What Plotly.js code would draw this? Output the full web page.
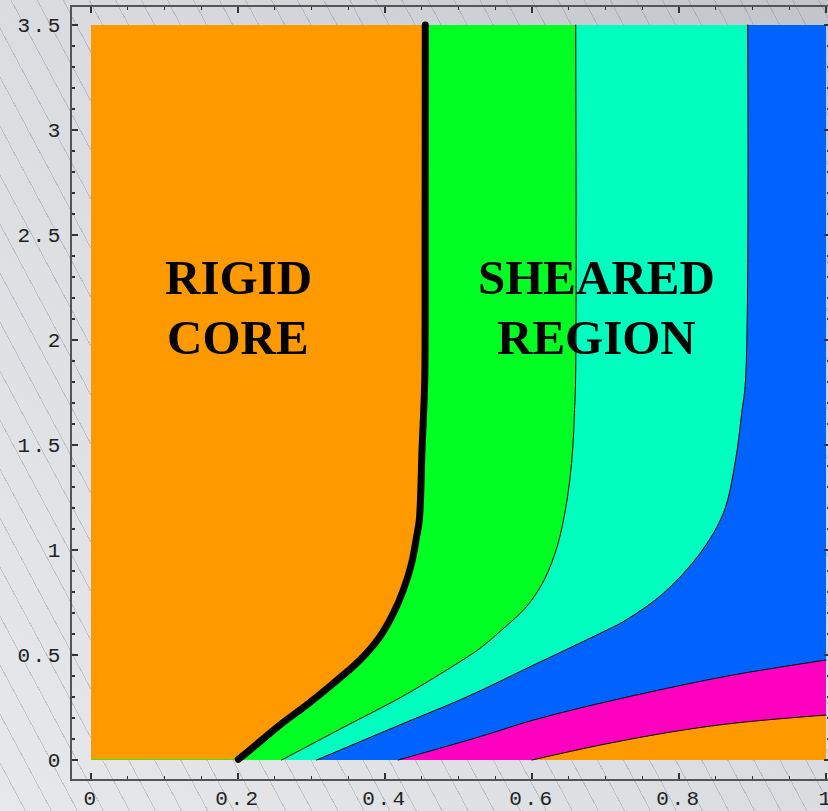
<!DOCTYPE html>
<html>
<head>
<meta charset="utf-8">
<script src="https://cdn.plot.ly/plotly-3.0.1.min.js"></script>
<style>
  html, body { margin: 0; padding: 0; overflow: hidden; width: 828px; height: 811px; }
  body {
    background:
      repeating-linear-gradient(62deg, rgba(0,0,0,0) 0px, rgba(0,0,0,0) 22px, rgba(110,115,125,0.30) 22px, rgba(110,115,125,0.30) 23px),
      linear-gradient(to bottom left, #c1c4ca 0%, #d9dbdf 45%, #e6e8eb 100%);
  }
  #chart { width: 830px; height: 811px; }
  .scatterlayer .js-line { stroke-linecap: round; stroke-linejoin: round; }
  .xtick text, .ytick text { letter-spacing: 2.5px; }
</style>
</head>
<body>
<div id="chart"></div>
<script>
// ---- data ----
const xDomain = [0, 1];
const yDomain = [0, 3.5];

// yield surface (thick black): rigid core / sheared region boundary
const yieldX = [0.2004, 0.2163, 0.2571, 0.2934, 0.3297, 0.3660, 0.3930, 0.4113, 0.4250, 0.4362, 0.4430, 0.4467, 0.4505, 0.4525, 0.4541, 0.4546, 0.4548];
const yieldY = [0.003, 0.048, 0.167, 0.262, 0.365, 0.476, 0.587, 0.698, 0.810, 0.937, 1.063, 1.143, 1.492, 1.651, 1.810, 2.600, 3.500];

// green / aquamarine boundary
const gaX = [0.2594, 0.3453, 0.4234, 0.4910, 0.5293, 0.5587, 0.5925, 0.6165, 0.6342, 0.6446, 0.6514, 0.6556, 0.6577, 0.6593, 0.6595];
const gaY = [0.000, 0.159, 0.302, 0.444, 0.532, 0.619, 0.730, 0.857, 1.016, 1.175, 1.333, 1.492, 1.651, 1.810, 3.500];

// aquamarine / blue boundary
const abX = [0.307, 0.420, 0.511, 0.602, 0.6925, 0.728, 0.7787, 0.8286, 0.8603, 0.8762, 0.8853, 0.8905, 0.8935];
const abY = [0.000, 0.167, 0.300, 0.452, 0.603, 0.667, 0.794, 0.984, 1.175, 1.413, 1.651, 1.810, 3.500];

// blue / magenta boundary
const bmX = [0.418, 0.529, 0.6017, 0.6925, 0.7832, 0.8739, 1.000];
const bmY = [0.000, 0.111, 0.190, 0.270, 0.341, 0.405, 0.476];

// magenta / orange boundary
const moX = [0.600, 0.6925, 0.783, 0.874, 1.000];
const moY = [0.000, 0.071, 0.130, 0.175, 0.214];

const xTickVals = [0, 0.2, 0.4, 0.6, 0.8, 1];
const xTickText = ['0', '0.2', '0.4', '0.6', '0.8', '1'];
const yTickVals = [0, 0.5, 1, 1.5, 2, 2.5, 3, 3.5];
const yTickText = ['0', '0.5', '1', '1.5', '2', '2.5', '3', '3.5'];

const labelLeft = ['RIGID', 'CORE'];
const labelRight = ['SHEARED', 'REGION'];

// ---- colours ----
const cOrange = '#ff9900';
const cGreen = '#00ff22';
const cAqua = '#00ffbf';
const cBlue = '#0062ff';
const cMagenta = '#ff00c0';

const sm = 1.0;
const traces = [
  { // blue base over whole domain
    x: [xDomain[1], xDomain[1]], y: yDomain, mode: 'lines', fill: 'tozerox',
    fillcolor: cBlue, line: { width: 0, color: cBlue }, hoverinfo: 'skip'
  },
  { x: abX, y: abY, mode: 'lines', fill: 'tozerox', fillcolor: cAqua,
    line: { color: '#000', width: 1, shape: 'spline', smoothing: sm }, hoverinfo: 'skip' },
  { x: gaX, y: gaY, mode: 'lines', fill: 'tozerox', fillcolor: cGreen,
    line: { color: '#000', width: 1, shape: 'spline', smoothing: sm }, hoverinfo: 'skip' },
  { x: yieldX, y: yieldY, mode: 'lines', fill: 'tozerox', fillcolor: cOrange,
    line: { color: '#000', width: 7, shape: 'spline', smoothing: sm }, hoverinfo: 'skip' },
  { x: bmX, y: bmY, mode: 'lines', fill: 'tozeroy', fillcolor: cMagenta,
    line: { color: '#000', width: 1, shape: 'spline', smoothing: sm }, hoverinfo: 'skip' },
  { x: moX, y: moY, mode: 'lines', fill: 'tozeroy', fillcolor: cOrange,
    line: { color: '#000', width: 1, shape: 'spline', smoothing: sm }, hoverinfo: 'skip' }
];

const tickFont = { family: 'Liberation Mono, DejaVu Sans Mono, monospace', size: 21, color: '#222' };
const annFont = { family: 'Liberation Serif, DejaVu Serif, serif', size: 49, color: '#000' };

const layout = {
  width: 830, height: 811,
  margin: { l: 72, r: 0, t: 7, b: 32 },
  paper_bgcolor: 'rgba(0,0,0,0)',
  plot_bgcolor: 'rgba(0,0,0,0)',
  showlegend: false,
  xaxis: {
    range: [-0.02585, 1.00544], autorange: false,
    tickmode: 'array', tickvals: xTickVals, ticktext: xTickText,
    ticks: 'inside', ticklen: 6, tickwidth: 1.5, tickcolor: '#333',
    minor: { tickmode: 'linear', tick0: 0, dtick: 0.05, ticks: 'inside', ticklen: 3, tickwidth: 1.2, tickcolor: '#333' },
    showline: true, linecolor: '#555', linewidth: 2, mirror: 'ticks',
    showgrid: false, zeroline: false, automargin: false,
    tickfont: tickFont, ticklabelstandoff: -1, ticklabeloverflow: 'allow'
  },
  yaxis: {
    range: [-0.09048, 3.5857], autorange: false,
    tickmode: 'array', tickvals: yTickVals, ticktext: yTickText,
    ticks: 'inside', ticklen: 6, tickwidth: 1.5, tickcolor: '#333',
    minor: { tickmode: 'linear', tick0: 0, dtick: 0.1, ticks: 'inside', ticklen: 3, tickwidth: 1.2, tickcolor: '#333' },
    showline: true, linecolor: '#555', linewidth: 2, mirror: 'ticks',
    showgrid: false, zeroline: false, automargin: false,
    tickfont: tickFont, ticklabelstandoff: 3, ticklabeloverflow: 'allow'
  },
  annotations: [
    { x: 0.2, y: 2.30, text: '<b>' + labelLeft[0] + '</b>', showarrow: false, font: annFont, xanchor: 'center', yanchor: 'middle' },
    { x: 0.2, y: 2.01, text: '<b>' + labelLeft[1] + '</b>', showarrow: false, font: annFont, xanchor: 'center', yanchor: 'middle' },
    { x: 0.688, y: 2.30, text: '<b>' + labelRight[0] + '</b>', showarrow: false, font: annFont, xanchor: 'center', yanchor: 'middle' },
    { x: 0.688, y: 2.01, text: '<b>' + labelRight[1] + '</b>', showarrow: false, font: annFont, xanchor: 'center', yanchor: 'middle' }
  ]
};

Plotly.newPlot('chart', traces, layout, { staticPlot: true, displayModeBar: false });
</script>
</body>
</html>
